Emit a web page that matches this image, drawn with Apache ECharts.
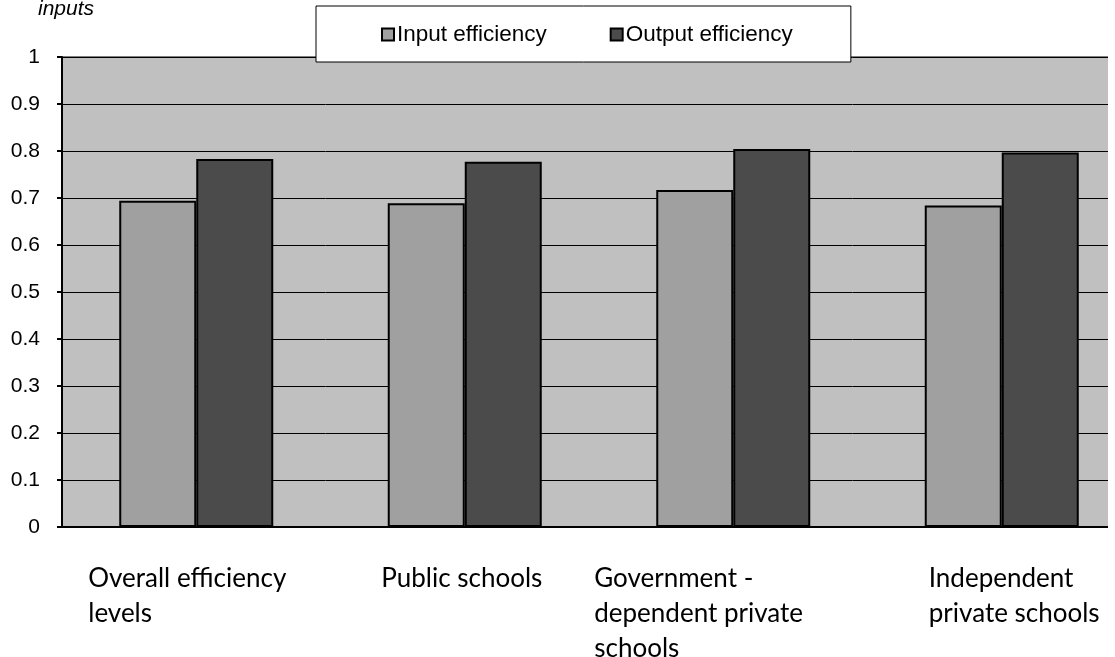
<!DOCTYPE html>
<html>
<head>
<meta charset="utf-8">
<script src="https://cdn.jsdelivr.net/npm/echarts@6/dist/echarts.min.js"></script>
<style>
  html, body { margin: 0; padding: 0; background: #fff; }
  #chart { width: 1115px; height: 657px; }
</style>
</head>
<body>
<div id="chart"></div>
<script>
// categories, wrapped the way the original labels are
var categories = ['Overall efficiency\nlevels', 'Public schools', 'Government -\ndependent private\nschools', 'Independent\nprivate schools']
var inputEfficiency = [0.694, 0.689, 0.717, 0.684]
var outputEfficiency = [0.783, 0.777, 0.804, 0.797]
var seriesNames = ['Input efficiency', 'Output efficiency']

window.onload = function () {
    var chart = echarts.init(document.getElementById('chart'))

    // label block widths so the left-aligned text starts where the original does
    var labelWidths = [216, 167, 278, 146]
    var rich = {}
    labelWidths.forEach(function (w, i) {
        rich['c' + i] = {
            width: w,
            align: 'left',
            fontFamily: 'Lato',
            fontSize: 26,
            lineHeight: 35,
            color: '#000'
        }
    })

    var option = {
        animation: false,
        title: {
            text: 'inputs',
            left: 38,
            top: -1,
            padding: 0,
            textStyle: {
                fontFamily: 'Liberation Sans',
                fontStyle: 'italic',
                fontWeight: 'normal',
                fontSize: 21,
                color: '#000'
            }
        },
        legend: {
            data: seriesNames,
            left: 316,
            top: 6,
            padding: [17, 58, 16, 65],
            itemGap: 63,
            itemWidth: 12,
            itemHeight: 12,
            icon: 'rect',
            backgroundColor: '#fff',
            borderColor: '#000',
            borderWidth: 1,
            textStyle: {
                fontFamily: 'Liberation Sans',
                fontSize: 22.5,
                color: '#000',
                padding: [0, 0, 0, -2]
            }
        },
        grid: {
            left: 62,
            right: -21,
            top: 57,
            bottom: 130,
            outerBoundsMode: 'none',
            show: true,
            backgroundColor: '#c0c0c0',
            borderColor: '#808080',
            borderWidth: 2
        },
        xAxis: {
            type: 'category',
            data: categories,
            axisLine: { lineStyle: { color: '#000', width: 2 } },
            axisTick: { show: false },
            axisLabel: {
                interval: 0,
                margin: 34,
                formatter: function (val, idx) {
                    return val.split('\n').map(function (l) {
                        return '{c' + idx + '|' + l + '}'
                    }).join('\n')
                },
                rich: rich
            }
        },
        yAxis: {
            type: 'value',
            min: 0,
            max: 1,
            interval: 0.1,
            axisLine: { show: true, lineStyle: { color: '#000', width: 2 } },
            axisTick: { show: true, length: 5, lineStyle: { color: '#000', width: 2 } },
            axisLabel: {
                margin: 22,
                fontFamily: 'Liberation Sans',
                fontSize: 21,
                color: '#000'
            },
            splitLine: { lineStyle: { color: '#000', width: 1 } }
        },
        graphic: [{
            // white strip past the plot's right edge, the original is cut there
            type: 'rect',
            left: 1108,
            top: 40,
            z: 100,
            shape: { width: 10, height: 500 },
            style: { fill: '#fff' }
        }],
        series: [
            {
                name: seriesNames[0],
                type: 'bar',
                data: inputEfficiency,
                barWidth: 77,
                barGap: '0%',
                itemStyle: { color: '#a0a0a0', borderColor: '#000', borderWidth: 2 }
            },
            {
                name: seriesNames[1],
                type: 'bar',
                data: outputEfficiency,
                barWidth: 77,
                barGap: '0%',
                itemStyle: { color: '#4b4b4b', borderColor: '#000', borderWidth: 2 }
            }
        ]
    }

    chart.setOption(option)
}
</script>
</body>
</html>
